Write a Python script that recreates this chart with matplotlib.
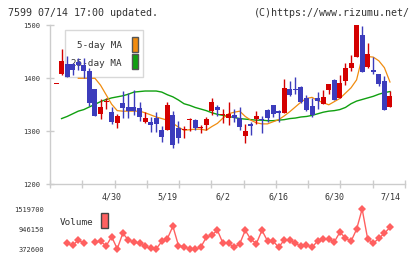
import numpy as np
import matplotlib
matplotlib.use("Agg")
import matplotlib.pyplot as plt
from matplotlib.patches import Rectangle

nan = np.nan

# daily candles (61 trading days, last = 07/14)
opens = [1389, 1409, 1427, 1427, 1431, 1425, 1414, 1380, 1332, 1356,
         1337, 1316, 1353, 1345, 1346, 1344, 1318, 1318, 1326, 1302,
         1302, 1331, 1307, 1303, 1321, 1321, 1306, 1312, 1339, 1345,
         1331, 1325, 1331, 1326, 1291, 1314, 1323, 1324, 1341, 1350,
         1338, 1335, 1380, 1380, 1384, 1362, 1348, 1362, 1351, 1377,
         1396, 1363, 1394, 1420, 1441, 1482, 1422, 1416, 1409, 1395,
         1346]
highs = [1389, 1456, 1442, 1429, 1438, 1438, 1419, 1380, 1360, 1363,
         1345, 1333, 1376, 1372, 1378, 1356, 1337, 1327, 1337, 1310,
         1355, 1339, 1320, 1310, 1326, 1324, 1312, 1327, 1362, 1349,
         1343, 1356, 1343, 1345, 1314, 1318, 1339, 1329, 1343, 1350,
         1340, 1399, 1395, 1403, 1385, 1368, 1362, 1375, 1377, 1389,
         1398, 1406, 1428, 1444, 1500, 1498, 1467, 1441, 1409, 1404,
         1376]
lows = [1389, 1407, 1402, 1406, 1416, 1400, 1348, 1329, 1323, 1343,
        1314, 1307, 1326, 1325, 1331, 1320, 1316, 1299, 1299, 1280,
        1302, 1269, 1277, 1288, 1301, 1302, 1296, 1302, 1331, 1328,
        1315, 1312, 1318, 1302, 1278, 1293, 1314, 1297, 1318, 1327,
        1318, 1334, 1366, 1370, 1353, 1339, 1327, 1343, 1351, 1370,
        1359, 1362, 1387, 1414, 1440, 1412, 1420, 1409, 1386, 1341,
        1346]
closes = [1389, 1433, 1403, 1415, 1425, 1414, 1354, 1329, 1345, 1357,
          1318, 1329, 1344, 1339, 1339, 1327, 1326, 1312, 1314, 1290,
          1350, 1274, 1288, 1304, 1323, 1307, 1308, 1323, 1355, 1340,
          1333, 1332, 1325, 1309, 1300, 1310, 1329, 1322, 1326, 1332,
          1334, 1382, 1368, 1377, 1356, 1340, 1331, 1358, 1365, 1389,
          1359, 1392, 1420, 1428, 1500, 1412, 1446, 1412, 1389, 1341,
          1367]

ma5 = [nan, nan, nan, nan, 1400, 1400, 1400, 1400, 1387, 1369,
       1351, 1339, 1338, 1338, 1338, 1338, 1335, 1331, 1327, 1324,
       1321, 1315, 1308, 1302, 1303, 1304, 1304, 1302, 1309, 1315,
       1325, 1333, 1336, 1338, 1328, 1321, 1316, 1314, 1314, 1318,
       1322, 1329, 1337, 1346, 1355, 1362, 1364, 1358, 1354, 1350,
       1356, 1362, 1372, 1382, 1397, 1440, 1441, 1440, 1433, 1420,
       1393]
ma25 = [nan, 1324, 1328, 1333, 1338, 1341, 1346, 1351, 1356, 1360,
        1363, 1365, 1367, 1370, 1374, 1375, 1376, 1376, 1376, 1374,
        1369, 1365, 1359, 1352, 1349, 1345, 1342, 1339, 1335, 1332,
        1330, 1328, 1326, 1324, 1323, 1322, 1321, 1321, 1320, 1320,
        1321, 1322, 1324, 1325, 1327, 1328, 1330, 1333, 1336, 1338,
        1339, 1341, 1345, 1352, 1357, 1360, 1363, 1366, 1370, 1373,
        1375]

volume = [nan, nan, 536000, 477000, 630700, 536000, nan, 573000, 596000, 458600,
          725000, 378000, 823000, 630700, 573000, 536000, 449000, 392700, 376000, 590000,
          665000, 1025000, 470000, 430000, 380000, 372600, 420000, 708100, 774100, 910000,
          536000, 536000, 421300, 520000, 907000, 650000, 530000, 907000, 602000, 602000,
          421300, 630700, 630700, 536000, 450000, 487300, 421300, 602000, 655000, 655000,
          575000, 855000, 688000, 592000, 937500, 1519700, 655000, 536000, 679500, 822800,
          995000]

date_pos = [10, 20, 30, 40, 50, 60]
date_labels = ["4/30", "5/19", "6/2", "6/16", "6/30", "7/14"]
price_ticks = [1200, 1300, 1400, 1500]
vol_ticks = [372600, 946150, 1519700]

RED = "#d40000"
BLUE = "#3c3cbc"
ORANGE = "#f08c10"
GREEN = "#10a010"
VOLC = "#ff6060"
GRID = "#cccccc"
TXT = "#333333"
MONO = "DejaVu Sans Mono"

W, H = 420, 259
fig = plt.figure(figsize=(W / 100, H / 100), dpi=100)

def fig_rect(x0, y0, x1, y1):
    # pixel box (top-left origin) -> figure fraction
    return [x0 / W, 1 - y1 / H, (x1 - x0) / W, (y1 - y0) / H]

xlim = (-1.08, 62.7)
x = np.arange(len(closes))

# ---- price panel
ax = fig.add_axes(fig_rect(50, 25.3, 405, 184.3))
ax.set_xlim(*xlim)
ax.set_ylim(1200, 1500)
for s in ["top", "right"]:
    ax.spines[s].set_visible(False)
for s in ["left", "bottom"]:
    ax.spines[s].set_color(GRID)
    ax.spines[s].set_linewidth(1.0)
ax.set_yticks(price_ticks)
ax.set_yticklabels([str(t) for t in price_ticks], fontsize=5, family=MONO, color=TXT)
ax.set_xticks(np.linspace(xlim[0], xlim[1], 12))
ax.set_xticklabels([])
ax.tick_params(axis="both", direction="inout", length=6, width=1.0, color=GRID, pad=4)
ax.patch.set_alpha(0)

# legend box (under the candles)
def ax_pt(px, py):
    return ((px - 50) / 355, (184.3 - py) / 159)

lx0, ly0 = ax_pt(65, 77)
lx1, ly1 = ax_pt(143, 30)
ax.add_patch(Rectangle((lx0, ly0), lx1 - lx0, ly1 - ly0, transform=ax.transAxes,
                       facecolor="white", edgecolor="#d8d8d8", lw=1.0, zorder=1))
for (label, col, ty, sy0, sy1) in [("5-day MA", ORANGE, 46, 37.3, 52.3),
                                    ("25-day MA", GREEN, 63.5, 54.3, 69.3)]:
    tx, tyy = ax_pt(122, ty)
    ax.text(tx, tyy, label, transform=ax.transAxes, ha="right", va="center",
            fontsize=6.7, family=MONO, color=TXT, zorder=1)
    sx0, sb = ax_pt(131.7, sy1)
    sx1, st = ax_pt(137.7, sy0)
    ax.add_patch(Rectangle((sx0, sb), sx1 - sx0, st - sb, transform=ax.transAxes,
                           facecolor=col, edgecolor="#555555", lw=1.0, zorder=1))

# moving averages
ax.plot(x, ma25, color=GREEN, lw=1.0, zorder=2)
ax.plot(x, ma5, color=ORANGE, lw=0.9, zorder=2)

# candles
o = np.array(opens, float)
c = np.array(closes, float)
colors = [RED if cc >= oo else BLUE for oo, cc in zip(o, c)]
ax.vlines(x, lows, highs, colors=colors, lw=1.0, zorder=3)
body_lo = np.minimum(o, c)
body_h = np.maximum(np.abs(c - o), 1.9)
ax.bar(x, body_h, bottom=body_lo, width=0.9, color=colors, linewidth=0, zorder=3)

# ---- volume panel
vt = 1519700 + 4 * 28677.5
vb = 372600 - 4 * 28677.5
axv = fig.add_axes(fig_rect(50, 205, 405, 253))
axv.set_xlim(*xlim)
axv.set_ylim(vb, vt)
for s in axv.spines.values():
    s.set_visible(False)
axv.patch.set_alpha(0)
axv.set_xticks([])
axv.set_yticks(vol_ticks)
axv.set_yticklabels([str(t) for t in vol_ticks], fontsize=5, family=MONO, color=TXT)
axv.tick_params(axis="y", length=0, pad=4.3)
axv.plot(x, volume, color=VOLC, lw=1.0, marker="D", markersize=4.2,
         markeredgewidth=0, clip_on=False)
for p, lbl in zip(date_pos, date_labels):
    axv.text(p, (253 - 197) / 48, lbl, transform=axv.get_xaxis_transform(),
             ha="center", va="center", fontsize=6, family=MONO, color=TXT)

# volume legend
fig.text(93 / W, 1 - 222.5 / H, "Volume", ha="right", va="center",
         fontsize=6.7, family=MONO, color=TXT)
fig.patches.append(Rectangle((101 / W, 1 - 228 / H), 7 / W, 15 / H,
                             transform=fig.transFigure, facecolor=VOLC,
                             edgecolor="#444444", lw=1.0))

# header
fig.text(8 / W, 1 - 13 / H, "7599 07/14 17:00 updated.", ha="left", va="center",
         fontsize=7.2, family=MONO, color=TXT)
fig.text(410 / W, 1 - 13 / H, "(C)https://www.rizumu.net/", ha="right", va="center",
         fontsize=7.2, family=MONO, color=TXT)

fig.savefig("out.png", dpi=100, facecolor="white")
